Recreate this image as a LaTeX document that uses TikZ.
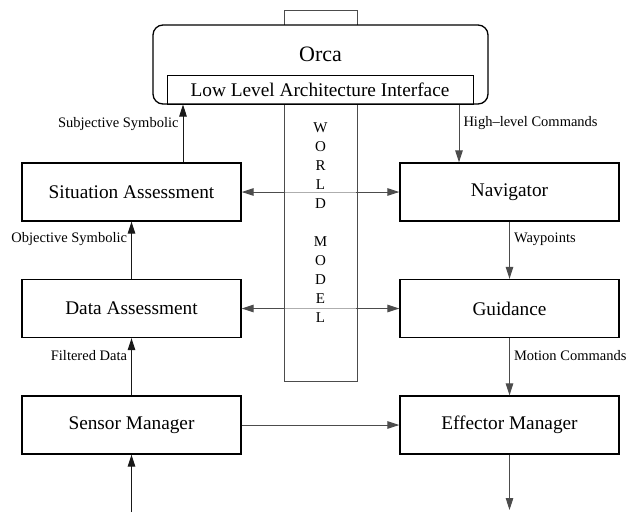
\documentclass[tikz,border=0pt]{standalone}
\usepackage{fontspec}
\setmainfont{Liberation Serif}
\usetikzlibrary{arrows.meta}

\begin{document}
\begin{tikzpicture}[x=1pt, y=-1pt, >={Triangle[length=12pt,width=7.5pt]},
    block/.style={draw, line width=1.3pt, minimum width=219, minimum height=58,
      font=\fontsize{19.3}{23}\selectfont},
    lbl/.style={text=black, font=\fontsize{14.5}{17}\selectfont, inner sep=4pt},
    flow/.style={line width=1pt, gray!20!black},
    link/.style={line width=1pt, gray!60!black}]
  \useasboundingbox (0,0) rectangle (631,512);
  \node [draw, gray!60!black, line width=0.9pt, minimum width=73, minimum height=371] (wm) at (320.5,195.5) {};
  \node [block] (sa) at (131.5,192) {Situation Assessment};
  \node [block] (da) at (131.5,308.5) {Data Assessment};
  \node [block] (sm) at (131.5,425) {Sensor Manager};
  \node [block] (nav) at (509.5,192) {Navigator};
  \node [block] (gui) at (509.5,308.5) {Guidance};
  \node [block] (eff) at (509.5,425) {Effector Manager};
  \draw [link, <->] (sa) -- (nav);
  \draw [link, <->] (da) -- (gui);
  \draw [link, ->] (sm) -- (eff);
  \fill [white, fill opacity=0.55] ([xshift=1]wm.south west) rectangle ([xshift=-1,yshift=-1]wm.east |- sa.north);
  \node [draw, fill=white, line width=1.3pt, rounded corners=10pt, minimum width=335, minimum height=79] (orca) at (320.5,64.5) {};
  \node [font=\fontsize{22}{26}\selectfont] (orcatxt) at (320.5,54) {Orca};
  \node [draw, line width=1pt, minimum width=306, minimum height=29, font=\fontsize{19.3}{23}\selectfont] (llai) at (320,89.5) {Low Level Architecture Interface};
  \node [font=\fontsize{15}{19}\selectfont, align=center, inner sep=0pt] (wmtxt) at (320.5,223)
    {W\\O\\R\\L\\D\\[19pt]M\\O\\D\\E\\L};
  \coordinate (smin) at (131.5,512);
  \coordinate (effout) at (509.5,510);
  \draw [flow, ->] ([xshift=51.5]sa.north) -- ([xshift=51.5]sa.north |- llai.south)
    node [lbl, left, pos=0.67] {Subjective Symbolic};
  \draw [link, ->] ([xshift=-50.5]nav.north |- llai.south) -- ([xshift=-50.5]nav.north)
    node [lbl, right, pos=0.32] {High\textendash level Commands};
  \draw [flow, ->] (da) -- (sa) node [lbl, left, pos=0.69] {Objective Symbolic};
  \draw [flow, ->] (sm) -- (da) node [lbl, left, pos=0.69] {Filtered Data};
  \draw [flow, ->] (smin) -- (sm);
  \draw [link, ->] (nav) -- (gui) node [lbl, right, pos=0.31] {Waypoints};
  \draw [link, ->] (gui) -- (eff) node [lbl, right, pos=0.31] {Motion Commands};
  \draw [link, ->] (eff) -- (effout);
\end{tikzpicture}
\end{document}
